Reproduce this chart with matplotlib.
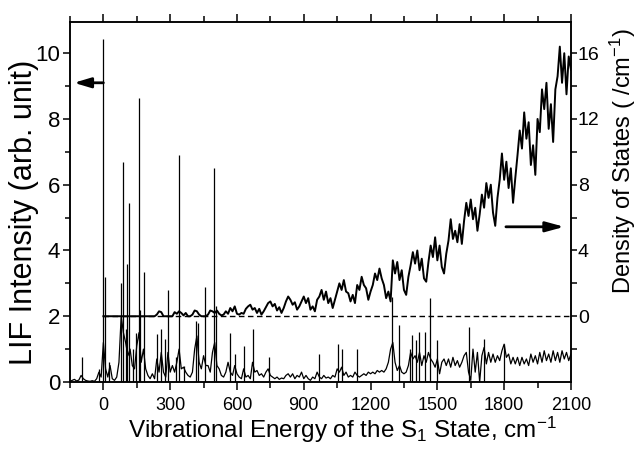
import matplotlib.pyplot as plt
import numpy as np

plt.rcParams['font.family'] = ['Liberation Sans', 'DejaVu Sans']
plt.rcParams['mathtext.fontset'] = 'custom'
plt.rcParams['mathtext.rm'] = 'Liberation Sans'
plt.rcParams['mathtext.it'] = 'Liberation Sans:italic'

# LIF continuum, read every 10 cm-1 from -150 to 2100
lif_x = np.arange(-150, 2101, 10)
lif_y = [
    0.02, 0.05, 0.08, 0.03, 0.06, 0.2, 0.1, 0.05, 0.03, 0.02,      # -150
    0.04, 0.02, 0.1, 0.3, 0.15, 1.2, 0.4, 0.15, 0.5, 0.1,          # -50
    0.05, 0.15, 0.6, 2.0, 1.5, 1.2, 0.8, 1.0, 0.5, 0.4,            # 50
    1.1, 1.5, 0.6, 1.0, 0.4, 0.2, 0.1, 0.25, 0.1, 0.7,             # 150
    0.3, 0.9, 0.3, 0.15, 0.9, 0.3, 0.5, 0.3, 0.6, 1.0,             # 250
    0.4, 0.45, 0.3, 0.2, 0.15, 0.3, 1.0, 1.4, 0.6, 0.4,            # 350
    0.8, 0.5, 0.5, 0.3, 0.9, 1.2, 0.5, 0.4, 0.2, 0.15,             # 450
    0.3, 0.6, 0.3, 0.2, 0.5, 0.25, 0.15, 0.1, 0.4, 0.15,           # 550
    0.2, 0.1, 0.6, 0.3, 0.35, 0.2, 0.25, 0.15, 0.3, 0.4,           # 650
    0.2, 0.15, 0.1, 0.15, 0.08, 0.12, 0.1, 0.2, 0.25, 0.15,        # 750
    0.25, 0.1, 0.2, 0.15, 0.3, 0.1, 0.2, 0.1, 0.05, 0.15,          # 850
    0.1, 0.3, 0.15, 0.1, 0.2, 0.12, 0.15, 0.1, 0.2, 0.15,          # 950
    0.4, 0.3, 0.45, 0.2, 0.3, 0.15, 0.2, 0.15, 0.3, 0.2,           # 1050
    0.15, 0.2, 0.25, 0.2, 0.3, 0.25, 0.3, 0.25, 0.35, 0.3,         # 1150
    0.35, 0.3, 0.4, 0.6, 1.0, 1.2, 0.6, 0.35, 0.5, 0.3,            # 1250
    0.25, 0.3, 0.5, 0.9, 0.7, 0.8, 0.6, 0.9, 0.5, 0.8,             # 1350
    0.6, 0.9, 0.7, 0.6, 0.45, 0.7, 0.25, 0.6, 0.7, 0.5,            # 1450
    0.7, 0.45, 0.75, 0.5, 0.65, 0.45, 0.6, 0.8, 0.9, 0.3,          # 1550
    0.05, 1.0, 0.3, 0.9, 0.0, 0.8, 1.05, 0.55, 0.9, 0.6,           # 1650
    0.85, 0.6, 0.8, 0.65, 0.95, 1.15, 0.75, 0.85, 0.55, 0.75,      # 1750
    0.55, 0.75, 0.5, 0.75, 0.55, 0.7, 0.5, 0.85, 0.6, 0.8,         # 1850
    0.55, 0.9, 0.6, 0.95, 0.65, 0.85, 0.6, 0.95, 0.65, 0.9,        # 1950
    0.6, 0.95, 0.7, 0.9, 0.65, 0.85,                               # 2050
]

# sharp LIF lines (position cm-1, height)
line_pos = [-97, -18, 0, 8, 27, 80, 90, 100, 108, 117, 135, 145, 159, 165, 183,
            243, 261, 275, 292, 324, 339, 360, 415, 423, 455, 497, 504, 567,
            592, 633, 672, 745, 967, 1053, 1072, 1140, 1297, 1327, 1377, 1387,
            1402, 1417, 1443, 1465, 1500, 1642, 1710, 1800]
line_height = [0.76, 0.4, 10.42, 3.2, 0.6, 3.0, 6.7, 1.6, 3.6, 5.45, 1.0, 1.5, 8.65, 2.2, 3.35,
               1.47, 1.62, 1.3, 2.8, 0.75, 6.9, 0.5, 1.85, 1.8, 2.9, 6.5, 2.3, 1.5,
               0.86, 1.1, 1.6, 0.76, 0.86, 1.17, 1.0, 1.0, 2.6, 1.73, 1.0, 1.42,
               1.27, 1.52, 1.52, 2.54, 1.27, 1.67, 1.32, 1.17]

# density of states (/cm-1), every 10 cm-1 from 0 to 2100
dos_x = np.arange(0, 2101, 10)
dos_y = [
    0, 0, 0, 0, 0, 0, 0, 0, 0, 0,                                  # 0
    0, 0, 0, 0, 0, 0, 0, 0, 0, 0,                                  # 100
    0, 0, 0, 0, 0.1, 0.3, 0.25, 0, 0, 0,                           # 200
    0, 0, 0.25, 0.15, 0.3, 0.2, 0.05, 0.2, 0, 0,                   # 300
    0.1, 0.35, 0.3, 0.1, 0, 0, 0, 0.1, 0.35, 0.3,                  # 400
    0.2, 0.35, 0.15, 0.05, 0.1, 0.3, 0.15, 0.5, 0.3, 0.6,          # 500
    0.15, 0.1, 0.2, 0.15, 0.45, 0.6, 0.7, 0.4, 0.5, 0.2,           # 600
    0.45, 0.1, 0.3, 0.55, 0.8, 0.9, 0.6, 0.75, 0.35, 0.55,         # 700
    0.2, 0.5, 0.9, 1.2, 1.0, 0.7, 0.85, 0.4, 0.6, 0.9,             # 800
    1.2, 0.8, 1.1, 0.4, 0.6, 0.3, 1.0, 1.2, 1.6, 1.0,              # 900
    1.5, 0.8, 1.1, 0.5, 1.0, 1.5, 2.0, 1.6, 2.2, 1.5,              # 1000
    1.4, 0.9, 1.3, 0.8, 1.9, 1.6, 2.4, 1.9, 1.7, 1.0,              # 1100
    1.5, 1.9, 2.6, 2.2, 2.9, 2.3, 1.9, 1.1, 1.5, 0.9,              # 1200
    3.4, 2.6, 3.3, 2.2, 2.8, 1.6, 1.3, 2.4, 3.1, 3.9,              # 1300
    3.2, 4.0, 2.8, 3.5, 2.3, 2.1, 3.3, 4.3, 3.6, 4.8,              # 1400
    3.4, 4.3, 3.0, 2.6, 3.8, 4.6, 5.9, 4.7, 5.2, 4.5,              # 1500
    5.6, 4.4, 5.8, 6.9, 6.1, 7.1, 5.9, 6.6, 5.2, 6.2,              # 1600
    7.4, 6.6, 8.1, 7.2, 8.0, 6.3, 5.5, 7.2, 8.3, 9.9,              # 1700
    8.3, 9.4, 7.8, 9.0, 6.9, 8.4, 9.8, 11.3, 10.2, 12.4,           # 1800
    10.8, 11.8, 9.2, 10.4, 8.6, 12.0, 11.2, 13.8, 12.6, 14.2,      # 1900
    11.4, 12.9, 10.6, 13.8, 14.6, 16.4, 14.2, 16.0, 13.5, 15.8,    # 2000
    15.0,
]

fig = plt.figure(figsize=(6.39, 4.54), dpi=100)
ax = fig.add_axes([0.1095, 0.1586, 0.784, 0.793])
ax2 = ax.twinx()

# spectrum
ax.plot(lif_x, lif_y, color='black', lw=0.9)
ax.vlines(line_pos, 0, line_height, color='black', lw=0.9)

# density of states + zero line
ax2.hlines(0, 0, 2100, color='black', lw=1.0, linestyles=(0, (4, 2.5)))
ax2.plot(dos_x, dos_y, color='black', lw=1.4)

# arrows telling which axis belongs to which trace
ax.annotate('', xy=(-132, 9.1), xytext=(0, 9.1),
            arrowprops=dict(arrowstyle='-|>,head_length=1.0,head_width=0.3',
                            color='black', lw=2, mutation_scale=10,
                            shrinkA=0, shrinkB=0))
ax.annotate('', xy=(2070, 4.72), xytext=(1808, 4.72),
            arrowprops=dict(arrowstyle='-|>,head_length=1.1,head_width=0.3',
                            color='black', lw=2, mutation_scale=10,
                            shrinkA=0, shrinkB=0))

ax.set_xlim(-150, 2100)
ax.set_ylim(0, 10.95)
ax2.set_ylim(-4, 17.9)

ax.set_xticks(range(0, 2101, 300))
ax.set_xticks(range(-150, 2101, 300), minor=True)
ax.set_yticks(range(0, 11, 2))
ax.set_yticks(range(1, 11, 2), minor=True)
ax2.set_yticks([0, 4, 8, 12, 16])
ax2.set_yticks([-2, 2, 6, 10, 14], minor=True)

ax.tick_params(which='both', direction='out', top=True, width=1.1)
ax.tick_params(axis='x', which='major', length=6, labelsize=13, pad=5)
ax.tick_params(axis='x', which='minor', length=4)
ax.tick_params(axis='y', which='major', length=5, labelsize=16, pad=2)
ax.tick_params(axis='y', which='minor', length=3.5)
ax2.tick_params(which='both', direction='out', width=1.1)
ax2.tick_params(which='major', length=4, labelsize=14, pad=1)
ax2.tick_params(which='minor', length=4)

for a in (ax, ax2):
    for s in a.spines.values():
        s.set_linewidth(1.1)

ax.set_xlabel('Vibrational Energy of the S$_1$ State, cm$^{-1}$', fontsize=17.5)
ax.xaxis.set_label_coords(0.543, -0.092)
ax.set_ylabel('LIF Intensity (arb. unit)', fontsize=22)
ax.yaxis.set_label_coords(-0.062, 0.472)
ax2.set_ylabel('Density of States ( /cm$^{-1}$)', fontsize=17)
ax2.yaxis.set_label_coords(1.074, 0.615)

fig.savefig('out.png', dpi=100)
